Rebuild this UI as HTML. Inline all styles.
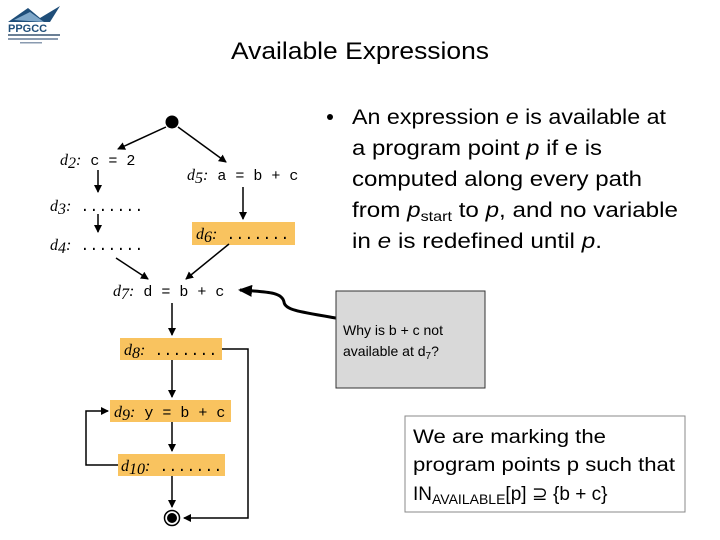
<!DOCTYPE html>
<html><head><meta charset="utf-8"><style>
html,body{margin:0;padding:0;background:#fff}
svg{display:block}
text{font-family:"Liberation Sans",sans-serif}
.m{font-family:"Liberation Mono",monospace;font-size:15px}
.i{font-family:"Liberation Serif",serif;font-style:italic;font-size:16px}
</style></head><body>
<svg width="720" height="540" viewBox="0 0 720 540" xmlns="http://www.w3.org/2000/svg">
<defs>
<marker id="a" markerWidth="8" markerHeight="8" refX="7" refY="4" orient="auto" markerUnits="userSpaceOnUse"><path d="M0,0 L8,4 L0,8 z" fill="#000"/></marker>
<marker id="b" markerWidth="14" markerHeight="12" refX="12" refY="6" orient="auto" markerUnits="userSpaceOnUse"><path d="M0,0 L14,6 L0,12 z" fill="#000"/></marker>
</defs>
<path d="M8,22 L28,8 L40,18 L60,6 L50,22 Z" fill="#1f4e79"/>
<path d="M14,20 L30,12 L44,22 Z" fill="#7fa7c9"/>
<text x="8" y="32" font-size="11" font-weight="bold" fill="#1f4e79" font-family="Liberation Serif">PPGCC</text>
<rect x="8" y="34" width="52" height="2" fill="#6a7f95"/>
<rect x="8" y="38" width="50" height="2" fill="#8a9bb0"/>
<rect x="20" y="42" width="22" height="1.5" fill="#8a9bb0"/>
<text x="360" y="59" font-size="24" text-anchor="middle" textLength="258" lengthAdjust="spacingAndGlyphs">Available Expressions</text>
<circle cx="330" cy="117" r="3" fill="#000"/>
<g font-size="21">
<text x="352" y="124" textLength="314" lengthAdjust="spacingAndGlyphs">An expression <tspan font-style="italic">e</tspan> is available at</text>
<text x="352" y="155" textLength="250" lengthAdjust="spacingAndGlyphs">a program point <tspan font-style="italic">p</tspan> if e is</text>
<text x="352" y="186" textLength="290" lengthAdjust="spacingAndGlyphs">computed along every path</text>
<text x="352" y="217" font-size="21px" textLength="326" lengthAdjust="spacingAndGlyphs">from <tspan font-style="italic" font-size="21px">p</tspan><tspan font-size="14px" dy="4">start</tspan><tspan font-size="21px" dy="-4"> to </tspan><tspan font-style="italic" font-size="21px">p</tspan><tspan font-size="21px">, and no variable</tspan></text>
<text x="352" y="248" textLength="250" lengthAdjust="spacingAndGlyphs">in <tspan font-style="italic">e</tspan> is redefined until <tspan font-style="italic">p</tspan>.</text>
</g>
<rect x="192" y="222" width="103" height="23" fill="#f9c35f"/>
<rect x="120" y="338" width="102" height="22" fill="#f9c35f"/>
<rect x="110" y="400" width="121" height="22" fill="#f9c35f"/>
<rect x="118" y="454" width="107" height="22" fill="#f9c35f"/>
<circle cx="172" cy="122" r="6.5" fill="#000"/>
<circle cx="172" cy="518" r="7.5" fill="#fff" stroke="#000" stroke-width="1.5"/>
<circle cx="172" cy="518" r="5" fill="#000"/>
<g fill="#000">
<text x="60" y="165"><tspan class="i">d</tspan><tspan class="i" font-size="11" dy="3">2</tspan><tspan class="i" dy="-3">:</tspan><tspan class="m"> c = 2</tspan></text>
<text x="187" y="180"><tspan class="i">d</tspan><tspan class="i" font-size="11" dy="3">5</tspan><tspan class="i" dy="-3">:</tspan><tspan class="m"> a = b + c</tspan></text>
<text x="50" y="211"><tspan class="i">d</tspan><tspan class="i" font-size="11" dy="3">3</tspan><tspan class="i" dy="-3">:</tspan><tspan class="m"> .......</tspan></text>
<text x="50" y="250"><tspan class="i">d</tspan><tspan class="i" font-size="11" dy="3">4</tspan><tspan class="i" dy="-3">:</tspan><tspan class="m"> .......</tspan></text>
<text x="196" y="239"><tspan class="i">d</tspan><tspan class="i" font-size="11" dy="3">6</tspan><tspan class="i" dy="-3">:</tspan><tspan class="m"> .......</tspan></text>
<text x="113" y="296"><tspan class="i">d</tspan><tspan class="i" font-size="11" dy="3">7</tspan><tspan class="i" dy="-3">:</tspan><tspan class="m"> d = b + c</tspan></text>
<text x="124" y="355"><tspan class="i">d</tspan><tspan class="i" font-size="11" dy="3">8</tspan><tspan class="i" dy="-3">:</tspan><tspan class="m"> .......</tspan></text>
<text x="114" y="417"><tspan class="i">d</tspan><tspan class="i" font-size="11" dy="3">9</tspan><tspan class="i" dy="-3">:</tspan><tspan class="m"> y = b + c</tspan></text>
<text x="121" y="471"><tspan class="i">d</tspan><tspan class="i" font-size="11" dy="3">10</tspan><tspan class="i" dy="-3">:</tspan><tspan class="m"> .......</tspan></text>
</g>
<g stroke="#000" stroke-width="1.5" fill="none" marker-end="url(#a)">
<line x1="166" y1="127" x2="118" y2="149"/>
<line x1="178" y1="127" x2="226" y2="162"/>
<line x1="98" y1="170" x2="98" y2="192"/>
<line x1="98" y1="214" x2="98" y2="232"/>
<line x1="243" y1="187" x2="243" y2="219"/>
<line x1="116" y1="258" x2="148" y2="279"/>
<line x1="229" y1="244" x2="186" y2="279"/>
<line x1="172" y1="303" x2="172" y2="335"/>
<line x1="172" y1="360" x2="172" y2="397"/>
<line x1="172" y1="422" x2="172" y2="451"/>
<line x1="172" y1="476" x2="172" y2="507"/>
<polyline points="222,349 248,349 248,518 184,518"/>
<polyline points="118,465 86,465 86,411 108,411"/>
</g>
<path d="M336,318 C300,312 285,310 284,302 C282,292 268,292 240,290" stroke="#000" stroke-width="3" fill="none" marker-end="url(#b)"/>
<rect x="336" y="291" width="149" height="97" fill="#d9d9d9" stroke="#333" stroke-width="1"/>
<text x="343" y="335" font-size="14">Why is b + c not</text>
<text x="343" y="356" font-size="14">available at d<tspan font-size="10" dy="3">7</tspan><tspan dy="-3">?</tspan></text>
<rect x="405" y="416" width="280" height="96" fill="#fff" stroke="#888" stroke-width="1"/>
<g font-size="19">
<text x="413" y="443" textLength="193" lengthAdjust="spacingAndGlyphs">We are marking the</text>
<text x="413" y="471" textLength="262" lengthAdjust="spacingAndGlyphs">program points p such that</text>
<text x="413" y="500">IN<tspan font-size="14" dy="4">AVAILABLE</tspan><tspan dy="-4">[p] ⊇ {b + c}</tspan></text>
</g>
</svg>
</body></html>
